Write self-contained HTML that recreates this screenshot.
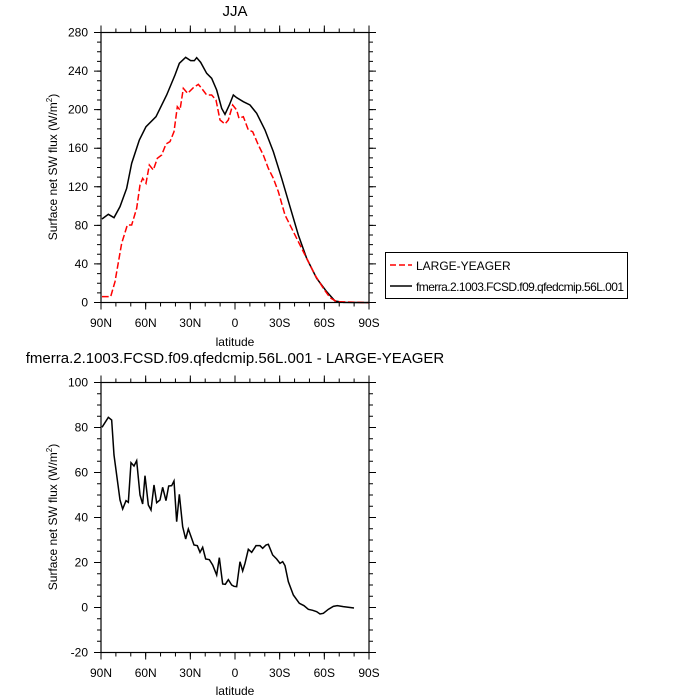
<!DOCTYPE html>
<html><head><style>body{margin:0;background:#fff}svg{display:block}text{font-family:"Liberation Sans",sans-serif;fill:#000}</style></head>
<body>
<svg width="700" height="700" viewBox="0 0 700 700">
<text x="235" y="16" font-size="15" text-anchor="middle">JJA</text>
<text x="235" y="363" font-size="15" text-anchor="middle">fmerra.2.1003.FCSD.f09.qfedcmip.56L.001 - LARGE-YEAGER</text>
<g transform="translate(90,25) scale(0.33333)" fill="none" stroke-width="4.5">
<path stroke="#000" d="M36,582 L55,568 72,578 90,545 110,490 125,415 148,345 168,305 198,275 230,210 255,150 268,115 287,97 302,107 313,107 320,98 332,112 350,145 365,160 380,195 395,250 405,268 418,240 430,210 440,218 460,230 480,240 500,265 525,315 550,380 575,460 600,545 625,630 650,700 680,760 710,800 735,828 760,832 836,833"/>
<path stroke="#f00" stroke-dasharray="20,8" d="M36,815 L62,815 75,770 95,655 112,600 125,600 140,550 150,480 158,460 168,475 178,420 190,435 202,400 215,390 228,357 240,350 252,320 262,245 270,255 280,190 293,205 310,188 325,178 335,190 350,210 365,210 378,225 390,285 405,297 415,285 428,240 440,255 447,280 460,275 475,315 488,320 505,360 520,390 535,430 550,460 565,500 585,570 605,610 625,650 650,700 675,750 700,790 720,818 740,830 836,833"/>
</g>
<g transform="translate(90,375) scale(0.33333)" fill="none" stroke-width="4.5">
<path stroke="#000" d="M36,157 L55,127 65,135 72,240 90,375 98,402 108,377 115,382 123,263 132,273 140,257 150,360 158,387 165,302 175,390 183,405 192,330 200,383 210,375 218,337 228,377 236,333 245,332 252,318 260,440 268,358 278,455 287,492 295,462 305,490 312,510 322,512 330,532 338,517 347,552 358,554 368,570 380,600 388,548 398,627 406,628 415,614 425,630 432,634 440,635 450,560 458,588 465,565 475,523 485,532 498,512 510,512 518,520 528,510 535,508 548,540 560,552 570,565 578,560 585,572 595,620 610,660 628,685 642,692 655,703 668,706 680,710 690,717 700,715 715,703 730,694 742,692 760,695 792,699"/>
</g>
<g stroke="#000" fill="none">
<rect x="101" y="32.5" width="268" height="270" stroke-width="1.2"/>
<rect x="101" y="382.5" width="268" height="270" stroke-width="1.2"/>
<!-- x ticks top plot -->
<line x1="100.5" x2="370" y1="304.5" y2="304.5" stroke-width="4" stroke-dasharray="1 13.889"/>
<line x1="100.5" x2="370" y1="306" y2="306" stroke-width="7" stroke-dasharray="1 43.667"/>
<line x1="100.5" x2="370" y1="30.5" y2="30.5" stroke-width="4" stroke-dasharray="1 13.889"/>
<line x1="100.5" x2="370" y1="29" y2="29" stroke-width="7" stroke-dasharray="1 43.667"/>
<!-- x ticks bottom plot -->
<line x1="100.5" x2="370" y1="654.5" y2="654.5" stroke-width="4" stroke-dasharray="1 13.889"/>
<line x1="100.5" x2="370" y1="656" y2="656" stroke-width="7" stroke-dasharray="1 43.667"/>
<line x1="100.5" x2="370" y1="380.5" y2="380.5" stroke-width="4" stroke-dasharray="1 13.889"/>
<line x1="100.5" x2="370" y1="379" y2="379" stroke-width="7" stroke-dasharray="1 43.667"/>
<!-- y ticks top plot -->
<line x1="99" x2="99" y1="32" y2="304" stroke-width="4" stroke-dasharray="1 8.643"/>
<line x1="97.5" x2="97.5" y1="32" y2="304" stroke-width="7" stroke-dasharray="1 37.571"/>
<line x1="371" x2="371" y1="32" y2="304" stroke-width="4" stroke-dasharray="1 8.643"/>
<line x1="372.5" x2="372.5" y1="32" y2="304" stroke-width="7" stroke-dasharray="1 37.571"/>
<!-- y ticks bottom plot -->
<line x1="99" x2="99" y1="382" y2="654" stroke-width="4" stroke-dasharray="1 10.25"/>
<line x1="97.5" x2="97.5" y1="382" y2="654" stroke-width="7" stroke-dasharray="1 44"/>
<line x1="371" x2="371" y1="382" y2="654" stroke-width="4" stroke-dasharray="1 10.25"/>
<line x1="372.5" x2="372.5" y1="382" y2="654" stroke-width="7" stroke-dasharray="1 44"/>
</g>
<g font-size="12" text-anchor="end">
<text x="88" y="306.5">0</text><text x="88" y="268">40</text><text x="88" y="229.4">80</text><text x="88" y="190.8">120</text><text x="88" y="152.2">160</text><text x="88" y="113.6">200</text><text x="88" y="75">240</text><text x="88" y="36.5">280</text>
<text x="88" y="656.5">-20</text><text x="88" y="611.5">0</text><text x="88" y="566.5">20</text><text x="88" y="521.5">40</text><text x="88" y="476.5">60</text><text x="88" y="431.5">80</text><text x="88" y="386.5">100</text>
</g>
<g font-size="12" text-anchor="middle">
<text x="101" y="327">90N</text><text x="145.7" y="327">60N</text><text x="190.3" y="327">30N</text><text x="235" y="327">0</text><text x="279.7" y="327">30S</text><text x="324.3" y="327">60S</text><text x="369" y="327">90S</text>
<text x="101" y="677">90N</text><text x="145.7" y="677">60N</text><text x="190.3" y="677">30N</text><text x="235" y="677">0</text><text x="279.7" y="677">30S</text><text x="324.3" y="677">60S</text><text x="369" y="677">90S</text>
<text x="235" y="346">latitude</text><text x="235" y="695">latitude</text>
<text transform="translate(57,167) rotate(-90)">Surface net SW flux (W/m<tspan font-size="8" dy="-5">2</tspan><tspan dy="5">)</tspan></text>
<text transform="translate(57,517) rotate(-90)">Surface net SW flux (W/m<tspan font-size="8" dy="-5">2</tspan><tspan dy="5">)</tspan></text>
</g>
<rect x="385.5" y="252.5" width="242" height="46" fill="none" stroke="#000"/>
<line x1="390" y1="265" x2="412" y2="265" stroke="#f00" stroke-width="1.5" stroke-dasharray="6,3"/>
<text x="416" y="270" font-size="12">LARGE-YEAGER</text>
<line x1="390" y1="286" x2="412" y2="286" stroke="#000" stroke-width="1.5"/>
<text x="416" y="291" font-size="12" textLength="208">fmerra.2.1003.FCSD.f09.qfedcmip.56L.001</text>
</svg>
</body></html>
